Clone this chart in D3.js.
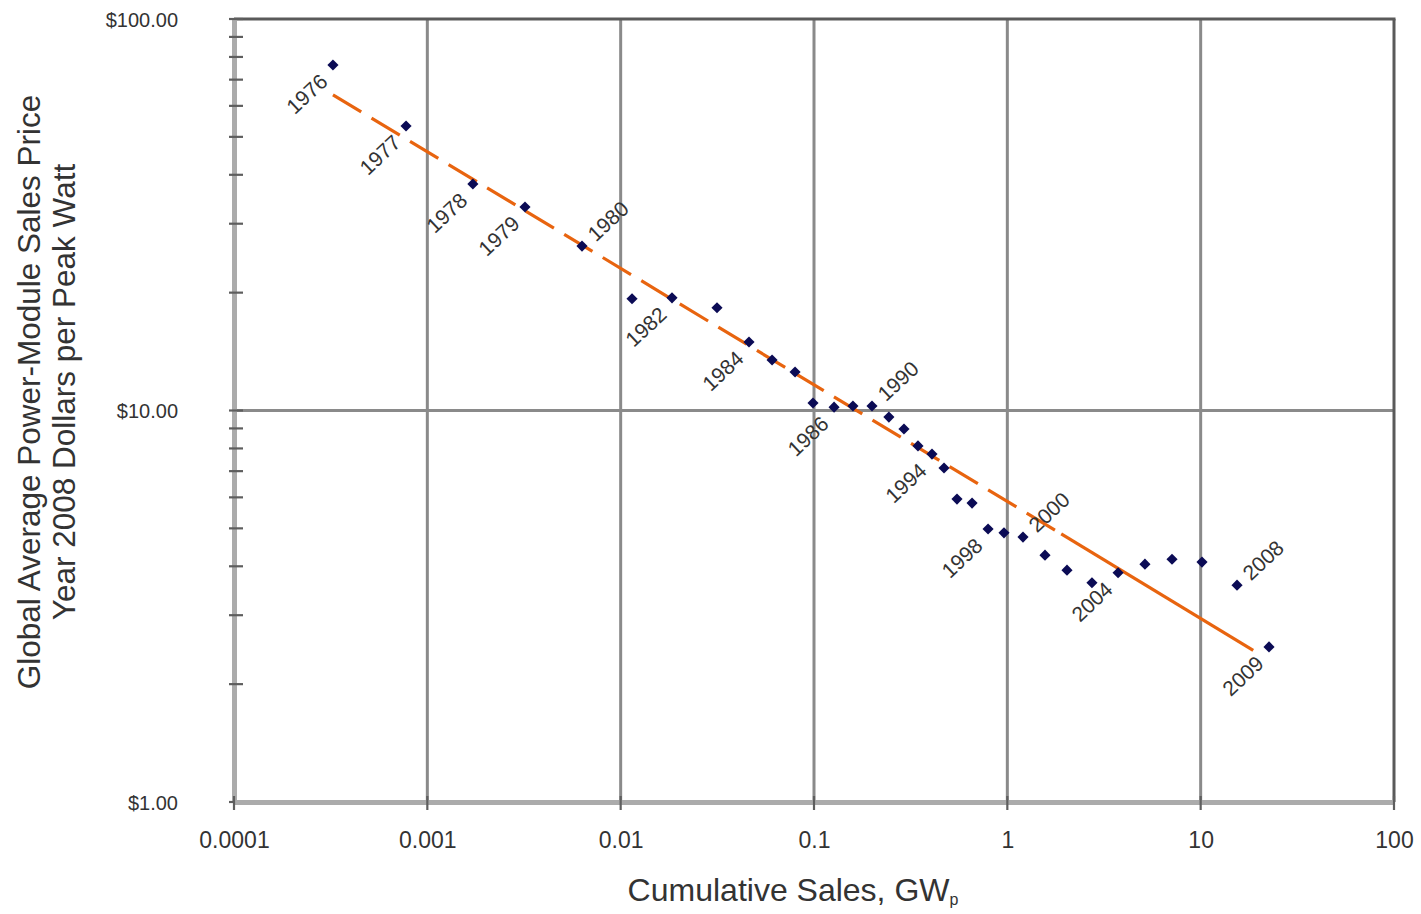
<!DOCTYPE html>
<html>
<head>
<meta charset="utf-8">
<script src="https://cdn.jsdelivr.net/npm/d3@7"></script>
<style>
  html, body { margin: 0; padding: 0; background: #fff; }
  svg { display: block; }
  text { font-family: "Liberation Sans", Arial, sans-serif; fill: #333; }
</style>
</head>
<body>
<svg id="chart" width="1421" height="914"></svg>
<script>
// ---- data ----
const years = [1976,1977,1978,1979,1980,1981,1982,1983,1984,1985,1986,1987,1988,1989,1990,
  1991,1992,1993,1994,1995,1996,1997,1998,1999,2000,2001,2002,2003,2004,2005,2006,2007,2008,2009];
const cumulativeGW = [0.000325,0.000776,0.00172,0.0032,0.00631,0.01145,0.01843,0.0315,0.0461,0.0607,
  0.0798,0.0988,0.127,0.159,0.1995,0.244,0.292,0.345,0.4076,0.4705,0.549,0.657,0.795,0.961,
  1.205,1.566,2.035,2.74,3.74,5.15,7.11,10.16,15.42,22.57];
const priceUSD = [76.3,53.3,37.9,33.1,26.3,19.3,19.4,18.3,14.96,13.46,12.54,10.45,10.2,10.27,10.27,
  9.62,8.97,8.12,7.74,7.13,5.94,5.80,4.98,4.87,4.75,4.27,3.91,3.63,3.85,4.05,4.17,4.10,3.58,2.49];

// point labels: text, index of the point it annotates, side
const labelTexts  = ["1976","1977","1978","1979","1980","1982","1984","1986","1990","1994","1998","2000","2004","2008","2009"];
const labelPoints = [0,1,2,3,4,6,8,12,14,18,22,24,28,32,33];
const labelSides  = ["below","below","below","below","above","below","below","below","above","below","below","above","below","above","below"];

// experience-curve trend line
const trendX = [0.000325, 1.9, 18.7];
const trendY = [64, 4.84, 2.44];
const trendStyle = ["dashed","solid"];

const xTickValues = [0.0001,0.001,0.01,0.1,1,10,100];
const xTickLabels = ["0.0001","0.001","0.01","0.1","1","10","100"];
const yTickValues = [1,10,100];
const yTickLabels = ["$1.00","$10.00","$100.00"];

// ---- layout ----
const svg = d3.select("#chart");
const L = 234, R = 1394, T = 19, B = 802;
const x = d3.scaleLog().domain([0.0001, 100]).range([L, R]);
const y = d3.scaleLog().domain([1, 100]).range([B, T]);

// gridlines
const gridX = xTickValues.filter(v => v > 0.0001 && v < 100);
svg.append("g").selectAll("line").data(gridX).join("line")
  .attr("x1", d => x(d)).attr("x2", d => x(d)).attr("y1", T).attr("y2", B)
  .attr("stroke", "#8a8a8a").attr("stroke-width", 3);
svg.append("g").selectAll("line").data([10]).join("line")
  .attr("x1", L).attr("x2", R).attr("y1", d => y(d)).attr("y2", d => y(d))
  .attr("stroke", "#8a8a8a").attr("stroke-width", 3);

// frame top / right
svg.append("line").attr("x1", L).attr("x2", R + 1.5).attr("y1", T).attr("y2", T)
  .attr("stroke", "#5a5a5a").attr("stroke-width", 3);
svg.append("line").attr("x1", R).attr("x2", R).attr("y1", T).attr("y2", B)
  .attr("stroke", "#5a5a5a").attr("stroke-width", 3);

// y axis
const yMinor = [];
[1, 10].forEach(dec => { for (let k = 1; k <= 10; k++) yMinor.push(dec * k); });
const yAxis = d3.axisLeft(y).tickValues(yTickValues).tickFormat((d, i) => yTickLabels[i]).tickSize(0).tickPadding(56);
const gy = svg.append("g").attr("transform", `translate(${L},0)`).call(yAxis);
gy.select(".domain").attr("stroke", "#ababab").attr("stroke-width", 5);
gy.selectAll("text").style("font-size", "20px").attr("fill", "#383838").attr("dy", "0.36em");
svg.append("g").selectAll("line").data(Array.from(new Set(yMinor))).join("line")
  .attr("x1", L - 5).attr("x2", L + 9).attr("y1", d => y(d)).attr("y2", d => y(d))
  .attr("stroke", "#5e5e5e").attr("stroke-width", 2.2);

// x axis
const xAxis = d3.axisBottom(x).tickValues(xTickValues).tickFormat((d, i) => xTickLabels[i]).tickSize(0).tickPadding(30);
const gx = svg.append("g").attr("transform", `translate(0,${B})`).call(xAxis);
gx.select(".domain").attr("stroke", "#ababab").attr("stroke-width", 5);
gx.selectAll("text").style("font-size", "23px").attr("fill", "#383838");
svg.append("g").selectAll("line").data(xTickValues).join("line")
  .attr("x1", d => x(d)).attr("x2", d => x(d)).attr("y1", B - 6).attr("y2", B + 8)
  .attr("stroke", "#5e5e5e").attr("stroke-width", 2.2);

// axis titles
const xt = svg.append("text").attr("x", 793).attr("y", 901).attr("text-anchor", "middle")
  .style("font-size", "32px").attr("fill", "#2e2e2e");
xt.append("tspan").text("Cumulative Sales, GW");
xt.append("tspan").attr("dy", 4).style("font-size", "16px").text("p");

const yt = svg.append("text").attr("transform", "translate(0,392) rotate(-90)").attr("text-anchor", "middle")
  .style("font-size", "31.5px").attr("fill", "#2e2e2e");
yt.append("tspan").attr("x", 0).attr("y", 40).text("Global Average Power-Module Sales Price");
yt.append("tspan").attr("x", 0).attr("y", 75).text("Year 2008 Dollars per Peak Watt");

// trend line
const segs = d3.range(trendX.length - 1).map(i => ({
  pts: [[trendX[i], trendY[i]], [trendX[i + 1], trendY[i + 1]]], style: trendStyle[i]
}));
const line = d3.line().x(d => x(d[0])).y(d => y(d[1]));
svg.append("g").selectAll("path").data(segs).join("path")
  .attr("d", d => line(d.pts)).attr("fill", "none")
  .attr("stroke", "#e8640f").attr("stroke-width", 3.2)
  .attr("stroke-dasharray", d => d.style === "dashed" ? "33,12" : null);

// points
const pts = years.map((yr, i) => ({ year: yr, gw: cumulativeGW[i], price: priceUSD[i] }));
svg.append("g").selectAll("path").data(pts).join("path")
  .attr("transform", d => `translate(${x(d.gw)},${y(d.price)}) rotate(45)`)
  .attr("d", d3.symbol(d3.symbolSquare, 62))
  .attr("fill", "#0b0b55");

// year labels
const labels = labelTexts.map((t, i) => ({ text: t, p: pts[labelPoints[i]], side: labelSides[i] }));
svg.append("g").selectAll("text").data(labels).join("text")
  .attr("transform", d => {
    const px = x(d.p.gw), py = y(d.p.price);
    return d.side === "below"
      ? `translate(${px - 9},${py + 13}) rotate(-43)`
      : `translate(${px + 9},${py - 9}) rotate(-43)`;
  })
  .attr("text-anchor", d => d.side === "below" ? "end" : "start")
  .attr("dy", "0.35em")
  .style("font-size", "21px").attr("fill", "#3a3a3a")
  .text(d => d.text);
</script>
</body>
</html>
